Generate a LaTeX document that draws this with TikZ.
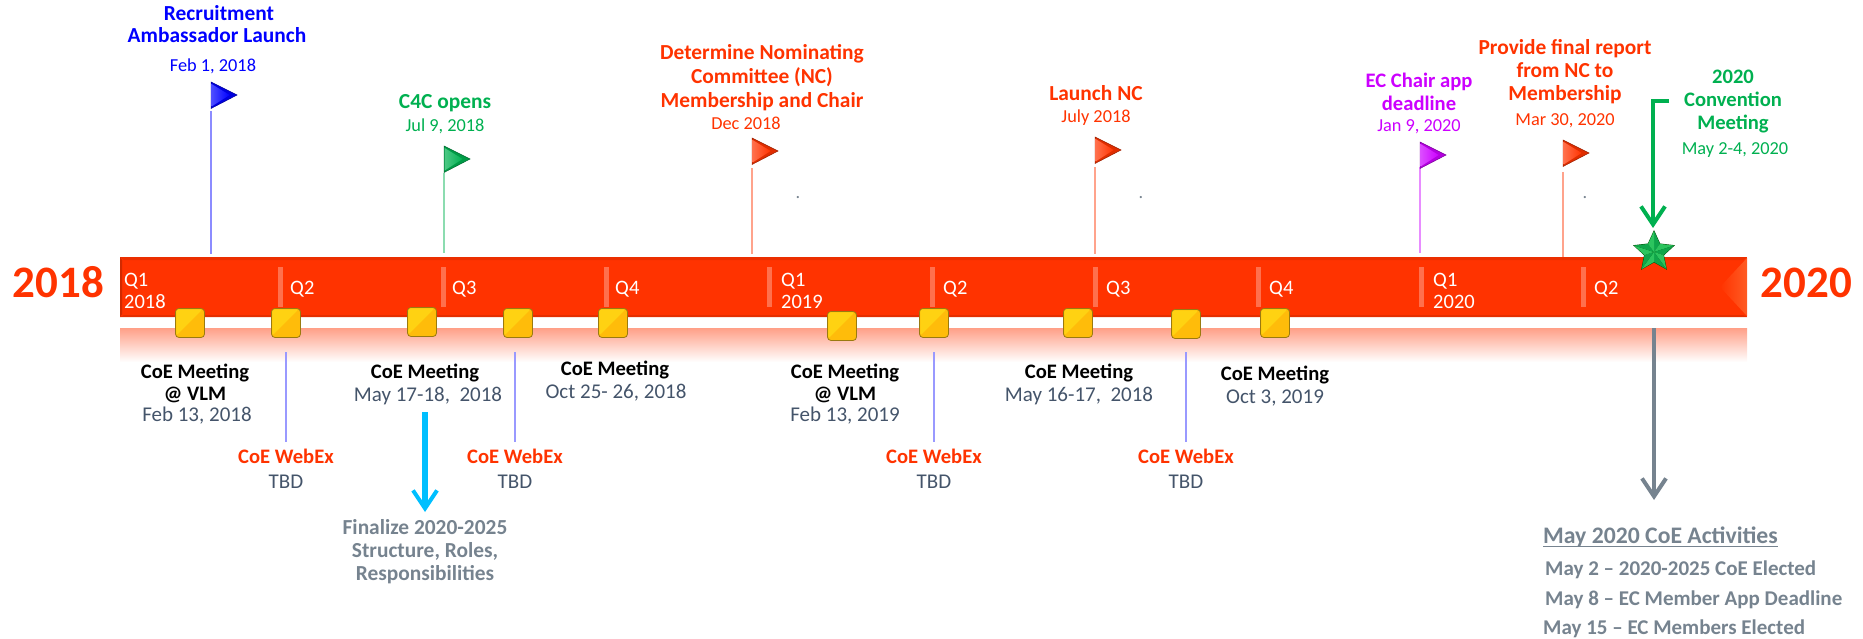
\documentclass[tikz,border=0pt]{standalone}
\usepackage{fontspec}
\setmainfont{Carlito}
\usetikzlibrary{arrows.meta}
\definecolor{cred}{HTML}{FF3300}
\definecolor{cblue}{HTML}{0000FF}
\definecolor{cgreen}{HTML}{00B050}
\definecolor{cmag}{HTML}{CC00FF}
\definecolor{cslate}{HTML}{44546A}
\definecolor{cgray}{HTML}{76838F}
\definecolor{ccyan}{HTML}{00BFFF}
\definecolor{cgoldhi}{HTML}{FFD212}
\definecolor{cgoldlo}{HTML}{FFBC0A}
\definecolor{cgoldln}{HTML}{9A7A10}
\definecolor{cbarhi}{HTML}{FF5C24}
\definecolor{cstarhi}{HTML}{2CC45E}
\definecolor{cstarlo}{HTML}{0FA54A}
\tikzset{
  lab/.style={anchor=base,inner sep=0pt,font=\fontsize{20.6}{24}\selectfont\bfseries},
  labb/.style={anchor=base,inner sep=0pt,font=\fontsize{21.4}{24}\selectfont\bfseries},
  dat/.style={anchor=base,inner sep=0pt,font=\fontsize{18.3}{22}\selectfont},
  datb/.style={anchor=base,inner sep=0pt,text=cslate,font=\fontsize{21}{24}\selectfont},
  qlab/.style={anchor=base west,inner sep=0pt,text=white,font=\fontsize{20.5}{24}\selectfont},
  year/.style={anchor=base,inner sep=0pt,text=cred,font=\fontsize{45}{50}\selectfont\bfseries},
  act/.style={anchor=base west,inner sep=0pt,text=cgray,font=\fontsize{21}{24}\selectfont\bfseries},
  pole/.style={line width=2pt},
  tickmark/.style={fill=white,fill opacity=.3,draw=none},
  openhead/.style={-{Straight Barb[length=18pt,width=24pt,line width=4pt]}}
}
% name, x, top y, colour, pole bottom y, pole top y
\newcommand{\flagpole}[6]{%
  \coordinate (#1-top) at (#2,#6);
  \coordinate (#1-bot) at (#2,#5);
  \draw[pole,#4!45!white] (#1-top) -- (#1-bot);
  \path[fill=#4!88!black,draw=#4!60!black,line width=.5pt]
    (#2,#3) -- ++(26,13) -- ++(-26,13.5) -- cycle;
  \path[shade,left color=#4!70!white,right color=#4]
    (#2+.6,#3+2) -- ++(18,11) -- ++(-18,11.5) -- cycle;
}
% name, x, y
\newcommand{\goldbox}[3]{%
  \node[minimum size=29pt,inner sep=0pt,draw=cgoldln,line width=.8pt,rounded corners=3.5pt,fill=cgoldlo] (#1) at (#2,#3) {};
  \fill[cgoldhi,rounded corners=2pt] (#2-13.6,#3-13.6) -- (#2+12.5,#3-13.6) -- (#2-13.6,#3+12.5) -- cycle;
}
\begin{document}
\begin{tikzpicture}[x=1pt,y=-1pt]
\useasboundingbox (0,0) rectangle (1863,639);
% reflection
\shade[top color=cred!47!white,bottom color=white] (120,328) rectangle (1747,362);
% bar
\fill[cred] (120,257) rectangle (1747,317);
\fill[black!8!cred] (120,257) -- (1747,257) -- (1743,260) -- (124,260) -- cycle;
\fill[black!10!cred] (120,317) -- (1747,317) -- (1743,315) -- (124,315) -- cycle;
\fill[black!18!cred] (120,257) -- (122,260) -- (122,314) -- (120,317) -- cycle;
\shade[left color=cred,right color=cbarhi] (1747,258) -- (1720,287) -- (1747,316) -- cycle;
% ticks
\foreach \tx in {278,440.5,603.5,767,930,1093,1256,1419,1581}
  \fill[tickmark] (\tx,267) rectangle (\tx+5,307);
% years
\node[year] (y18) at (58.5,297) {2018};
\node[year] (y20) at (1806.5,297) {2020};
% quarter labels
\node[qlab,align=left] (q1a) at (124,286) {Q1};
\node[qlab] (q1b) at (124,308) {2018};
\node[qlab] (q2a) at (290,294) {Q2};
\node[qlab] (q3a) at (452,294) {Q3};
\node[qlab] (q4a) at (615,294) {Q4};
\node[qlab] (q1c) at (781,286) {Q1};
\node[qlab] (q1d) at (781,308) {2019};
\node[qlab] (q2b) at (943,294) {Q2};
\node[qlab] (q3b) at (1106,294) {Q3};
\node[qlab] (q4b) at (1269,294) {Q4};
\node[qlab] (q1e) at (1433,286) {Q1};
\node[qlab] (q1f) at (1433,308) {2020};
\node[qlab] (q2c) at (1594,294) {Q2};
% flags
\flagpole{fa}{211}{82}{cblue}{254}{111}
\flagpole{fb}{444}{146}{cgreen}{253}{173}
\flagpole{fc}{752}{138}{cred}{254}{168}
\flagpole{fd}{1095}{137}{cred}{254}{167}
\flagpole{fe}{1420}{142}{cmag}{253}{167}
\flagpole{ff}{1563}{140}{cred}{257}{172}
% top labels
\node[labb,text=cblue] (t1) at (219,21) {Recruitment};
\node[labb,text=cblue] (t2) at (217,43) {Ambassador Launch};
\node[dat,text=cblue] (t3) at (213,72) {Feb 1, 2018};
\node[labb,text=cgreen] (t4) at (445,109) {C4C opens};
\node[dat,text=cgreen] (t5) at (445,132) {Jul 9, 2018};
\node[labb,text=cred] (t6) at (762,60) {Determine Nominating};
\node[labb,text=cred] (t7) at (762,84) {Committee (NC)};
\node[labb,text=cred] (t8) at (762,108) {Membership and Chair};
\node[dat,text=cred] (t9) at (746,130) {Dec 2018};
\node[labb,text=cred] (t10) at (1096,101) {Launch NC};
\node[dat,text=cred] (t11) at (1096,123) {July 2018};
\node[lab,text=cmag] (t12) at (1419,88) {EC Chair app};
\node[lab,text=cmag] (t13) at (1419,111) {deadline};
\node[dat,text=cmag] (t14) at (1419,132) {Jan 9, 2020};
\node[labb,text=cred] (t15) at (1565,55) {Provide final report};
\node[labb,text=cred] (t16) at (1565,78) {from NC to};
\node[labb,text=cred] (t17) at (1565,101) {Membership};
\node[dat,text=cred] (t18) at (1565,126) {Mar 30, 2020};
\node[lab,text=cgreen] (t19) at (1733,84) {2020};
\node[lab,text=cgreen] (t20) at (1733,107) {Convention};
\node[lab,text=cgreen] (t21) at (1733,130) {Meeting};
\node[dat,text=cgreen] (t22) at (1735,155) {May 2-4, 2020};
% stray dots
\node[dat,text=cgray] (d1) at (798,199) {.};
\node[dat,text=cgray] (d2) at (1141,199) {.};
\node[dat,text=cgray] (d3) at (1585,199) {.};
% gold markers
\goldbox{m1}{190}{323}
\goldbox{m2}{286}{323}
\goldbox{m3}{422}{322}
\goldbox{m4}{518}{323}
\goldbox{m5}{613}{323}
\goldbox{m6}{842}{326}
\goldbox{m7}{934}{323}
\goldbox{m8}{1078}{323}
\goldbox{m9}{1186}{324}
\goldbox{m10}{1275}{323}
% WebEx connectors
\foreach \n/\wx in {a/286,b/515,c/934,d/1186}{
  \coordinate (w\n-top) at (\wx,352);
  \coordinate (w\n-bot) at (\wx,442);
  \draw[pole,blue!40!white] (w\n-top) -- (w\n-bot);
  \node[lab,text=cred] (w\n-l) at (\wx,463) {CoE WebEx};
  \node[datb] (w\n-d) at (\wx,488) {TBD};
}
% meeting labels
\node[lab] (a1) at (195,378) {CoE Meeting};
\node[lab] (a2) at (195,400) {@ VLM};
\node[datb] (a3) at (197,421) {Feb 13, 2018};
\node[lab] (b1) at (425,378) {CoE Meeting};
\node[datb] (b2) at (428,401) {May 17-18,\ \ 2018};
\node[lab] (c1) at (615,375) {CoE Meeting};
\node[datb] (c2) at (616,398) {Oct 25- 26, 2018};
\node[lab] (e1) at (845,378) {CoE Meeting};
\node[lab] (e2) at (845,400) {@ VLM};
\node[datb] (e3) at (845,421) {Feb 13, 2019};
\node[lab] (g1) at (1079,378) {CoE Meeting};
\node[datb] (g2) at (1079,401) {May 16-17,\ \ 2018};
\node[lab] (h1) at (1275,380) {CoE Meeting};
\node[datb] (h2) at (1275,403) {Oct 3, 2019};
% finalize
\coordinate (fz-top) at (425,412);
\coordinate (fz-bot) at (425,512);
\draw[openhead,line width=5.5pt,ccyan] (fz-top) -- (fz-bot);
\node[labb,text=cgray] (f1) at (425,534) {Finalize 2020-2025};
\node[labb,text=cgray] (f2) at (425,557) {Structure, Roles,};
\node[labb,text=cgray] (f3) at (425,580) {Responsibilities};
% star
\def\sx{1654}\def\sy{252}
\fill[green!30!black] ({\sx},{\sy-22})
  \foreach \i in {1,...,9}{ -- ({\sx+(mod(\i,2)==1 ? 10.5 : 22)*sin(36*\i)},{\sy-(mod(\i,2)==1 ? 10.5 : 22)*cos(36*\i)}) } -- cycle;
\foreach \i [evaluate=\i as \a using 36*\i, evaluate=\i as \b using 36*(\i+1)] in {0,1,...,9}{
  \pgfmathsetmacro{\ra}{mod(\i,2)==1 ? 10 : 21}
  \pgfmathsetmacro{\rb}{mod(\i,2)==1 ? 21 : 10}
  \pgfmathsetmacro{\sh}{mod(\i,2)==1 ? 100 : 0}
  \fill[cstarhi!\sh!cstarlo] (\sx,\sy) -- ({\sx+\ra*sin(\a)},{\sy-\ra*cos(\a)}) -- ({\sx+\rb*sin(\b)},{\sy-\rb*cos(\b)}) -- cycle;
}
\coordinate (st-top) at (1669,101);
\coordinate (st-mid) at (1653,101);
\coordinate (st-bot) at (1653,228);
\draw[openhead,line width=4pt,cgreen] (st-top) -- (st-mid) -- (st-bot);
% activities
\coordinate (ga-top) at (1654,328);
\coordinate (ga-bot) at (1654,500);
\draw[openhead,line width=4pt,cgray] (ga-top) -- (ga-bot);
\node[act,font=\fontsize{23.7}{26}\selectfont\bfseries] (g0) at (1543,543) {May 2020 CoE Activities};
\draw[cgray,line width=1pt] ([yshift=-3pt]g0.base west) -- ([yshift=-3pt]g0.base east);
\node[act] (g1a) at (1545,575) {May 2 – 2020-2025 CoE Elected};
\node[act] (g2a) at (1545,605) {May 8 – EC Member App Deadline};
\node[act] (g3a) at (1543,634) {May 15 – EC Members Elected};
\end{tikzpicture}
\end{document}
